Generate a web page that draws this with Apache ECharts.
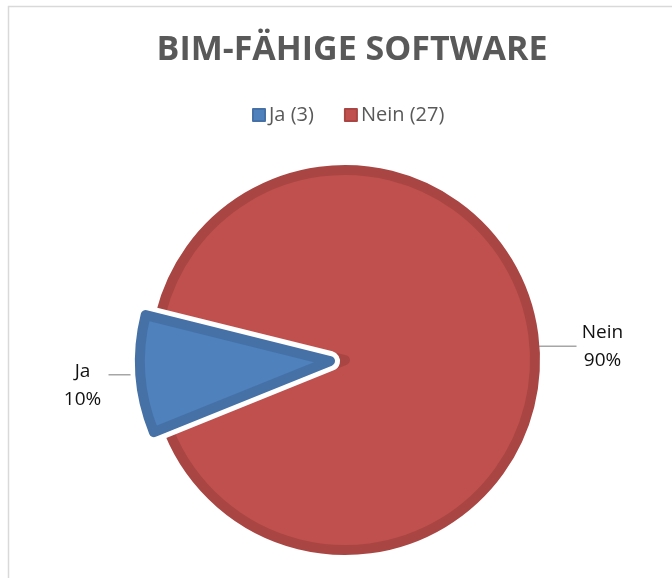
<!DOCTYPE html>
<html>
<head>
<meta charset="utf-8">
<script src="https://cdn.jsdelivr.net/npm/echarts@6/dist/echarts.min.js"></script>
<style>
  html, body { margin: 0; padding: 0; background: #fff; }
  #chart { width: 672px; height: 578px; }
</style>
</head>
<body>
<div id="chart"></div>
<script>
const categories = ["Ja", "Nein"];
const counts = [3, 27];
const fills = ["#4f81bd", "#c0504d"];
const bands = ["#4671a6", "#a94643"];

const legendNames = categories.map((c, i) => c + " (" + counts[i] + ")");

const font = "'Open Sans', 'Liberation Sans', sans-serif";
const center = [345, 360];
const radius = 190;
const startAngle = 202;
const offset = 15;

// per-slice label tweaks (Excel puts the small slice label a little lower)
const labelPad = [[22, 0, 0, 0], [0, 0, 0, 0]];
const lineLen2 = [26, 36];

// bottom layer: both slices with their dark band and labels
const baseData = categories.map((c, i) => ({
  name: legendNames[i],
  label: { formatter: "{t|" + c + "}\n{t|{d}%}", padding: labelPad[i] },
  labelLine: { length2: lineLen2[i] },
  value: counts[i],
  selected: i === 0,
  itemStyle: { color: fills[i], borderColor: bands[i], borderWidth: 10 }
}));

// overlay for the exploded slice: white gap, then its own band on top
const overlay = (stroke, width) =>
  categories.map((c, i) => ({
    name: legendNames[i],
    value: counts[i],
    selected: i === 0,
    itemStyle: i === 0
      ? { color: fills[i], borderColor: stroke, borderWidth: width }
      : { color: "rgba(0,0,0,0)", borderWidth: 0 }
  }));

const chart = echarts.init(document.getElementById("chart"));
chart.setOption({
  animation: false,
  color: fills,
  title: {
    text: "BIM-FÄHIGE SOFTWARE",
    left: 347,
    top: 28,
    textAlign: "center",
    textStyle: { fontFamily: font, fontSize: 34, fontWeight: "bold", color: "#595959" }
  },
  legend: {
    data: legendNames,
    left: 247,
    top: 100,
    icon: "rect",
    itemWidth: 12,
    itemHeight: 12,
    itemGap: 30,
    selectedMode: false,
    textStyle: { fontFamily: font, fontSize: 20, color: "#595959", padding: [0, 0, 0, -1] }
  },
  graphic: [{
    type: "rect",
    shape: { x: 8.5, y: 6.5, width: 720, height: 620 },
    style: { fill: "none", stroke: "#d9d9d9", lineWidth: 1.5 },
    silent: true
  }],
  series: [
    {
      type: "pie",
      center: center,
      radius: radius,
      startAngle: startAngle,
      selectedMode: "single",
      selectedOffset: offset,
      emphasis: { disabled: true },
      label: {
        show: true,
        position: "outside",
        distanceToLabelLine: 2,
        color: "#111",
        fontFamily: font,
        fontSize: 19,
        lineHeight: 28,
        rich: { t: { width: 48, align: "center", fontFamily: font, fontSize: 19, lineHeight: 28, color: "#111" } }
      },
      labelLine: { length: 6, lineStyle: { color: "#a6a6a6", width: 1.5 } },
      data: baseData
    },
    {
      type: "pie",
      center: center,
      radius: radius,
      startAngle: startAngle,
      selectedMode: "single",
      selectedOffset: offset,
      silent: true,
      emphasis: { disabled: true },
      label: { show: false },
      labelLine: { show: false },
      data: overlay("#ffffff", 20)
    },
    {
      type: "pie",
      center: center,
      radius: radius,
      startAngle: startAngle,
      selectedMode: "single",
      selectedOffset: offset,
      silent: true,
      emphasis: { disabled: true },
      label: { show: false },
      labelLine: { show: false },
      data: overlay(bands[0], 10)
    }
  ]
});
</script>
</body>
</html>
